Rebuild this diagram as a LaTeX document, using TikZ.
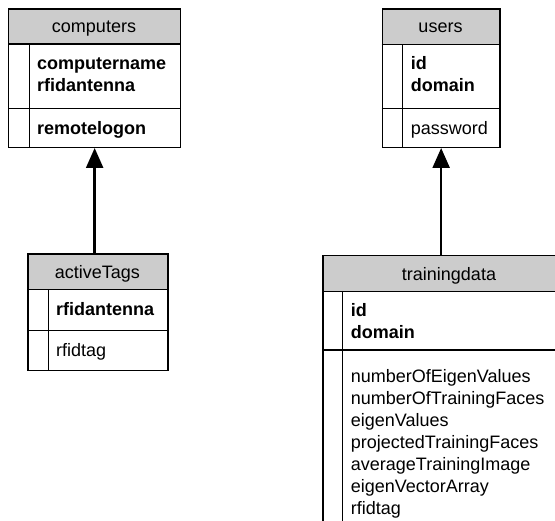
\documentclass[tikz,border=0pt]{standalone}
\usepackage{fontspec}
\setmainfont{Liberation Sans}
\usetikzlibrary{arrows.meta}
\definecolor{hdrgray}{HTML}{CCCCCC}
\begin{document}
\begin{tikzpicture}[x=1pt,y=-1pt,
  box/.style={draw=black,line width=1.3pt,inner sep=0pt,anchor=north west},
  sep/.style={draw=black,line width=1.3pt},
  ttl/.style={font=\fontsize{18}{22}\selectfont,anchor=base,inner sep=0pt},
  fld/.style={font=\fontsize{18}{22}\selectfont,anchor=base west,inner sep=0pt},
  keyf/.style={font=\fontsize{18}{22}\selectfont\bfseries,anchor=base west,inner sep=0pt},
  rel/.style={line width=2.4pt,-{Triangle[length=20pt,width=17pt]}}]
\useasboundingbox (0,0) rectangle (555,521);
\clip (0,0) rectangle (555,521);

% computers
\fill[hdrgray] (8,8.3) rectangle (180,44);
\node[box,minimum width=172pt,minimum height=138.4pt] (computers) at (8,8.3) {};
\draw[sep] (8,44) -- (180,44) (8,108.3) -- (180,108.3) (29.3,44) -- (29.3,146.7);
\node[ttl] (computersT) at (94,33) {computers};
\node[keyf] (c1) at (37,70) {computername};
\node[keyf] (c2) at (37,92) {rfidantenna};
\node[keyf] (c3) at (37,135) {remotelogon};

% users
\fill[hdrgray] (381.7,8.3) rectangle (499.3,44.5);
\node[box,minimum width=117.6pt,minimum height=138.4pt] (users) at (381.7,8.3) {};
\draw[sep] (381.7,44.5) -- (499.3,44.5) (381.7,108.8) -- (499.3,108.8) (402.3,44.5) -- (402.3,146.7);
\node[ttl] (usersT) at (440.5,33) {users};
\node[keyf] (u1) at (410.7,70) {id};
\node[keyf] (u2) at (410.7,92) {domain};
\node[fld] (u3) at (410.7,135) {password};

% activeTags
\fill[hdrgray] (27.3,253.3) rectangle (167.3,289.3);
\node[box,minimum width=140pt,minimum height=116.7pt] (activeTags) at (27.3,253.3) {};
\draw[sep] (27.3,289.3) -- (167.3,289.3) (27.3,330.7) -- (167.3,330.7) (48.3,289.3) -- (48.3,370);
\node[ttl] (activeTagsT) at (97.3,278.5) {activeTags};
\node[keyf] (a1) at (56,316) {rfidantenna};
\node[fld] (a2) at (56,357) {rfidtag};

% trainingdata
\fill[hdrgray] (322.3,255) rectangle (576,291.7);
\node[box,minimum width=253.7pt,minimum height=290pt] (trainingdata) at (322.3,255) {};
\draw[sep] (322.3,291.7) -- (576,291.7) (322.3,350) -- (576,350) (342.7,291.7) -- (342.7,545);
\node[ttl] (trainingdataT) at (449,280.5) {trainingdata};
\node[keyf] (t1) at (350.7,317) {id};
\node[keyf] (t2) at (350.7,339) {domain};
\node[fld] (t3) at (350.7,383) {numberOfEigenValues};
\node[fld] (t4) at (350.7,405) {numberOfTrainingFaces};
\node[fld] (t5) at (350.7,427) {eigenValues};
\node[fld] (t6) at (350.7,449) {projectedTrainingFaces};
\node[fld] (t7) at (350.7,471) {averageTrainingImage};
\node[fld] (t8) at (350.7,493) {eigenVectorArray};
\node[fld] (t9) at (350.7,515) {rfidtag};

% relations
\draw[rel] (computers.south |- activeTags.north) -- (computers.south);
\draw[rel] (users.south |- trainingdata.north) -- (users.south);
\end{tikzpicture}
\end{document}
